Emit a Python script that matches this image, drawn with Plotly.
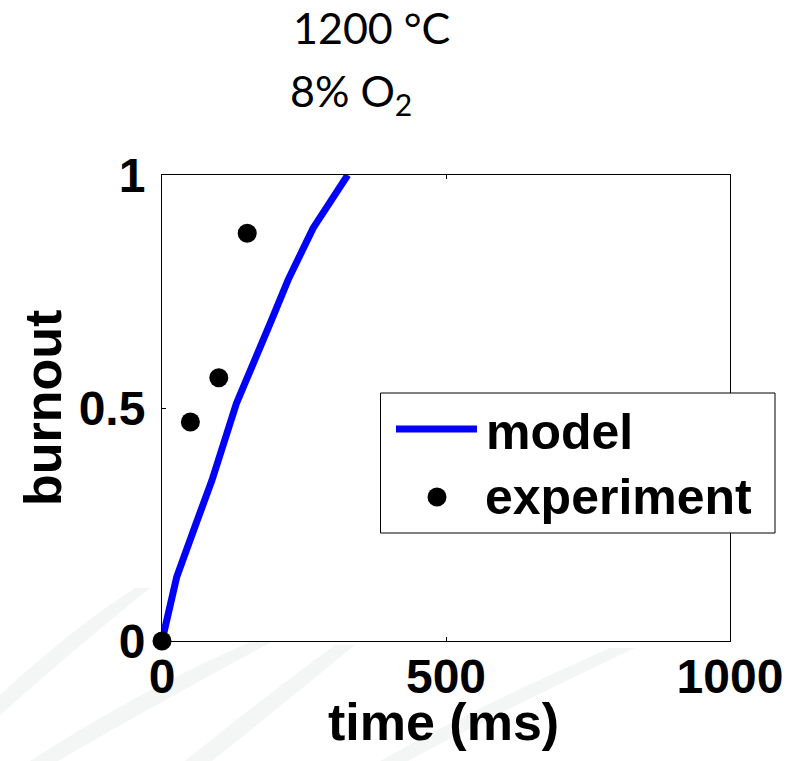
import plotly.graph_objects as go

# model prediction of char burnout at 1200 °C, 8% O2
model_time_ms = [0, 26, 60, 88, 131, 164, 193, 222, 266, 327]
model_burnout = [0.0, 0.138, 0.252, 0.345, 0.51, 0.61, 0.689, 0.775, 0.886, 1.0]

# measured burnout
exp_time_ms = [0, 50, 100, 150]
exp_burnout = [0.0, 0.47, 0.565, 0.875]

x_ticks = [0, 500, 1000]
x_tick_text = ["0", "500", "1000"]
y_ticks = [0, 0.5, 1]
y_tick_text = ["0", "0.5", "1"]

W, H = 803, 761
L, R, T, B = 162, 730, 175, 641  # plot area edges in px


def px(xp):
    return (xp - L) / (R - L)


def py(yp):
    return (B - yp) / (B - T)


BLUE = "#0000ff"
SANS = "Liberation Sans, Arial, sans-serif"
AX_FONT = dict(family=SANS, size=48, color="black")

fig = go.Figure()
fig.add_trace(go.Scatter(
    x=model_time_ms, y=model_burnout, mode="lines",
    line=dict(color=BLUE, width=7), cliponaxis=False, showlegend=False,
))
fig.add_trace(go.Scatter(
    x=exp_time_ms, y=exp_burnout, mode="markers",
    marker=dict(color="black", size=19), cliponaxis=False, showlegend=False,
))

shapes = []
# faint background swooshes in the lower-left corner
swoosh = "#f4f6f5"
bands = [
    [(0, 695), (70, 630), (135, 588), (150, 588), (85, 640), (0, 715)],
    [(30, 761), (140, 690), (250, 642), (272, 642), (160, 702), (58, 761)],
    [(185, 761), (260, 700), (335, 645), (355, 645), (282, 705), (212, 761)],
    [(380, 761), (480, 705), (610, 648), (635, 648), (500, 712), (408, 761)],
]
for band in bands:
    pts = [(px(a), py(b)) for a, b in band]
    path = "M {} {} Q {} {} {} {} L {} {} Q {} {} {} {} Z".format(
        pts[0][0], pts[0][1], pts[1][0], pts[1][1], pts[2][0], pts[2][1],
        pts[3][0], pts[3][1], pts[4][0], pts[4][1], pts[5][0], pts[5][1])
    shapes.append(dict(type="path", xref="paper", yref="paper", path=path,
                       fillcolor=swoosh, line=dict(width=0), layer="below"))

# legend box drawn over the axes
shapes.append(dict(type="rect", xref="paper", yref="paper",
                   x0=px(380.5), x1=px(775), y0=py(533), y1=py(393),
                   fillcolor="white", line=dict(color="black", width=1), layer="above"))
shapes.append(dict(type="line", xref="paper", yref="paper",
                   x0=px(396), x1=px(477), y0=py(429), y1=py(429),
                   line=dict(color=BLUE, width=7), layer="above"))
shapes.append(dict(type="circle", xref="paper", yref="paper",
                   x0=px(427.5), x1=px(446.5), y0=py(506.5), y1=py(487.5),
                   fillcolor="black", line=dict(width=0), layer="above"))

annotations = [
    dict(text="<b>model</b>", x=px(484), y=py(432), xref="paper", yref="paper",
         xanchor="left", yanchor="middle", showarrow=False,
         font=dict(family=SANS, size=50, color="black")),
    dict(text="<b>experiment</b>", x=px(483), y=py(497), xref="paper", yref="paper",
         xanchor="left", yanchor="middle", showarrow=False,
         font=dict(family=SANS, size=50, color="black")),
    dict(text="1200 °C", x=px(371), y=py(27), xref="paper", yref="paper",
         xanchor="center", yanchor="middle", showarrow=False,
         font=dict(family="Lato, sans-serif", size=43, color="black")),
    dict(text="8% O<sub>2</sub>", x=px(351), y=py(93), xref="paper", yref="paper",
         xanchor="center", yanchor="middle", showarrow=False,
         font=dict(family="Lato, sans-serif", size=43, color="black")),
    # axis titles
    dict(text="<b>time (ms)</b>", x=px(443), y=py(722), xref="paper", yref="paper",
         xanchor="center", yanchor="middle", showarrow=False,
         font=dict(family=SANS, size=52, color="black")),
    dict(text="<b>burnout</b>", x=px(43), y=py(408), xref="paper", yref="paper",
         xanchor="center", yanchor="middle", showarrow=False, textangle=-90,
         font=dict(family=SANS, size=52, color="black")),
]

fig.update_layout(
    width=W, height=H,
    margin=dict(l=L, r=W - R, t=T, b=H - B, pad=0),
    paper_bgcolor="white", plot_bgcolor="white",
    shapes=shapes, annotations=annotations,
    showlegend=False,
)
fig.update_xaxes(
    range=[0, 1000], tickvals=x_ticks, ticktext=["<b>%s</b>" % t for t in x_tick_text],
    showgrid=False, zeroline=False, showline=True, mirror="ticks",
    linecolor="black", linewidth=1, ticks="inside", ticklen=4, tickcolor="black",
    tickfont=AX_FONT, ticklabelstandoff=-7, automargin=False,
)
fig.update_yaxes(
    range=[0, 1], tickvals=y_ticks, ticktext=["<b>%s</b>" % t for t in y_tick_text],
    showgrid=False, zeroline=False, showline=True, mirror="ticks",
    linecolor="black", linewidth=1, ticks="inside", ticklen=4, tickcolor="black",
    tickfont=AX_FONT, ticklabelstandoff=6, automargin=False,
)

fig.write_html("out.html")
